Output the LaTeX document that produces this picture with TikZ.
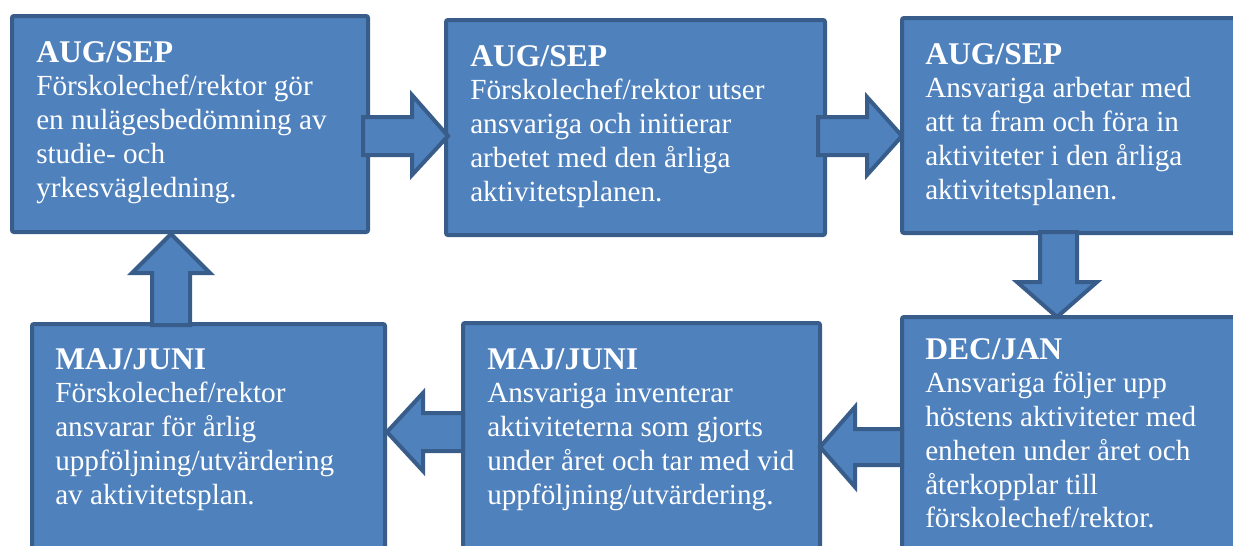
\documentclass[tikz,border=0pt]{standalone}
\usepackage{fontspec}
\setmainfont{Liberation Serif}
\usetikzlibrary{fit}
\definecolor{boxfill}{HTML}{4F81BD}
\definecolor{boxline}{HTML}{385D8A}
\newcommand{\boxtitle}[1]{{\fontsize{23.7}{25.3}\selectfont\bfseries #1}}
\tikzset{
  stepbox/.style={draw=boxline, fill=boxfill, line width=3pt, rounded corners=1.5pt, inner sep=0pt},
  blockarrow/.style={draw=boxline, fill=boxfill, line width=3pt, line join=miter},
  boxtext/.style={anchor=north west, inner sep=0pt, align=left, text=white,
    font=\fontsize{21.9}{25.3}\selectfont},
}
\begin{document}
\begin{tikzpicture}[x=0.75pt,y=-0.75pt]
\useasboundingbox (0,0) rectangle (1233,546);
\clip (0,0) rectangle (1233,546);
% boxes
\node[stepbox, fit={(12,16) (368,232)}] (b1) {};
\node[stepbox, fit={(446,20) (825,235)}] (b2) {};
\node[stepbox, fit={(902,18) (1250,233)}] (b3) {};
\node[stepbox, fit={(902,317) (1250,570)}] (b4) {};
\node[stepbox, fit={(463,323) (820,570)}] (b5) {};
\node[stepbox, fit={(32,324) (385,570)}] (b6) {};
% block arrows
\draw[blockarrow] (363,117) -- (412,117) -- (412,95) -- (448,136) -- (412,175) -- (412,155) -- (363,155) -- cycle;
\draw[blockarrow] (818,117) -- (867,117) -- (867,97) -- (902,136) -- (867,175) -- (867,155) -- (818,155) -- cycle;
\draw[blockarrow] (1040,232) -- (1040,282) -- (1017,282) -- (1057,317) -- (1097,282) -- (1077,282) -- (1077,232) -- cycle;
\draw[blockarrow] (902,429) -- (855,429) -- (855,407) -- (820,447) -- (855,487) -- (855,465) -- (902,465) -- cycle;
\draw[blockarrow] (463,413) -- (423,413) -- (423,393) -- (387,432) -- (423,471) -- (423,451) -- (463,451) -- cycle;
\draw[blockarrow] (152,325) -- (152,273) -- (132,273) -- (171,234) -- (210,273) -- (190,273) -- (190,325) -- cycle;
% texts
\node[boxtext] (t1) at (36,41) {\boxtitle{AUG/SEP}\\Förskolechef/rektor gör\\en nulägesbedömning av\\studie- och\\yrkesvägledning.};
\node[boxtext] (t2) at (470,45) {\boxtitle{AUG/SEP}\\Förskolechef/rektor utser\\ansvariga och initierar\\arbetet med den årliga\\aktivitetsplanen.};
\node[boxtext] (t3) at (925,43) {\boxtitle{AUG/SEP}\\Ansvariga arbetar med\\att ta fram och föra in\\aktiviteter i den årliga\\aktivitetsplanen.};
\node[boxtext] (t4) at (925,338) {\boxtitle{DEC/JAN}\\Ansvariga följer upp\\höstens aktiviteter med\\enheten under året och\\återkopplar till\\förskolechef/rektor.};
\node[boxtext] (t5) at (487,348) {\boxtitle{MAJ/JUNI}\\Ansvariga inventerar\\aktiviteterna som gjorts\\under året och tar med vid\\uppföljning/utvärdering.};
\node[boxtext] (t6) at (55,348) {\boxtitle{MAJ/JUNI}\\Förskolechef/rektor\\ansvarar för årlig\\uppföljning/utvärdering\\av aktivitetsplan.};
\end{tikzpicture}
\end{document}
